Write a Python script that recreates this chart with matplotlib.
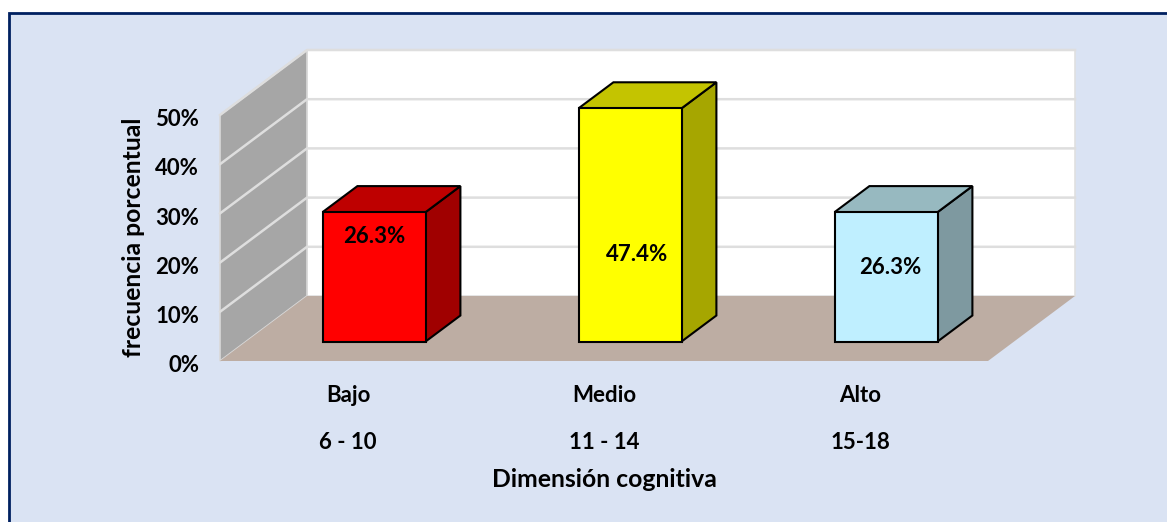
import matplotlib
matplotlib.use('Agg')
import matplotlib.pyplot as plt
from matplotlib.patches import Polygon, Rectangle
from matplotlib.transforms import ScaledTranslation

niveles = ['Bajo', 'Medio', 'Alto']
rangos = ['6 - 10', '11 - 14', '15-18']
porcentajes = [26.3, 47.4, 26.3]
etiquetas = ['26.3%', '47.4%', '26.3%']
y_ticks = [0, 10, 20, 30, 40, 50]
y_tick_labels = ['0%', '10%', '20%', '30%', '40%', '50%']

# colores de cada barra (frente, arriba, lado)
col_frente = ['#FF0000', '#FFFF00', '#BFEFFF']
col_arriba = ['#BE0000', '#C4C400', '#97B9C0']
col_lado = ['#A00000', '#A6A600', '#7E99A0']

W, H = 1167, 522
plt.rcParams['font.family'] = ['Lato', 'DejaVu Sans']
plt.rcParams['font.weight'] = 'bold'

fig = plt.figure(figsize=(W / 100, H / 100), dpi=100, facecolor='white')
fig.add_artist(Rectangle((9 / W, -0.02), 1.02, (H - 13) / H + 0.02, transform=fig.transFigure,
                         facecolor='#DAE3F3', edgecolor='#002060', linewidth=2, zorder=-1))

ax = fig.add_axes([220 / W, 1 - 361 / H, 768 / W, 246 / H])
ax.set_xlim(0, 3)
ax.set_ylim(0, 50)
ax.patch.set_visible(False)
for s in ax.spines.values():
    s.set_visible(False)

# desplazamiento de la profundidad (falso 3D)
DX = 87 / 256
DY = 65 / 246 * 50
ANCHO = 103 / 256


def proy(x, y, d):
    return (x + d * DX, y + d * DY)


def poligono(puntos, color, edge='none', lw=0.0, z=1):
    ax.add_patch(Polygon([proy(*p) for p in puntos], closed=True, facecolor=color,
                         edgecolor=edge, linewidth=lw, clip_on=False, zorder=z,
                         joinstyle='miter'))


# paredes y piso
poligono([(0, 0, 1), (3, 0, 1), (3, 50, 1), (0, 50, 1)], 'white', '#E0E0E0', 1.2)
poligono([(0, 0, 0), (0, 0, 1), (0, 50, 1), (0, 50, 0)], '#A6A6A6', '#D9D9D9', 1.2)
poligono([(0, 0, 0), (3, 0, 0), (3, 0, 1), (0, 0, 1)], '#BDADA3', z=2)

for t in y_ticks[1:]:
    xs, ys = zip(proy(0, t, 0), proy(0, t, 1), proy(3, t, 1))
    ax.plot(xs, ys, color='#DEDEDE', lw=1.8, clip_on=False, zorder=1.5)

# barras
D0, D1 = 0.3, 0.7
for i, v in enumerate(porcentajes):
    x0 = i + 0.5 - ANCHO / 2
    x1 = x0 + ANCHO
    poligono([(x1, 0, D0), (x1, 0, D1), (x1, v, D1), (x1, v, D0)], col_lado[i], 'black', 1.5, 3)
    poligono([(x0, v, D0), (x1, v, D0), (x1, v, D1), (x0, v, D1)], col_arriba[i], 'black', 1.5, 3)
    poligono([(x0, 0, D0), (x1, 0, D0), (x1, v, D0), (x0, v, D0)], col_frente[i], 'black', 1.5, 4)

# etiquetas de datos
lab_dx = [0.0, 7 / 256, 4 / 256]
lab_y = [21.3, 17.7, 15.0]
for i, txt in enumerate(etiquetas):
    px, py = proy(i + 0.5 + lab_dx[i], lab_y[i], D0)
    ax.text(px, py, txt, ha='center', va='center', fontsize=16, fontweight='bold', zorder=5)

ax.set_yticks(y_ticks)
ax.set_yticklabels(y_tick_labels, fontsize=16, fontweight='bold')
ax.set_xticks([i + 0.5 for i in range(3)])
ax.set_xticklabels([a + '\n\n' + b for a, b in zip(niveles, rangos)], fontsize=16,
                   fontweight='bold', linespacing=1.15)
ax.tick_params(axis='both', length=0)
ax.tick_params(axis='y', pad=15)
ax.tick_params(axis='x', pad=17)

# las etiquetas del eje y van un poco mas abajo
bajar = ScaledTranslation(0, -2 / 72, fig.dpi_scale_trans)
for lab in ax.get_yticklabels():
    lab.set_transform(lab.get_transform() + bajar)

ax.set_xlabel('Dimensión cognitiva', fontsize=17.8, fontweight='bold')
ax.xaxis.set_label_coords(0.5, -0.435)
ax.set_ylabel('frecuencia porcentual', fontsize=17.8, fontweight='bold')
ax.yaxis.set_label_coords(-0.0975, 0.504)

fig.savefig('out.png', dpi=100)
